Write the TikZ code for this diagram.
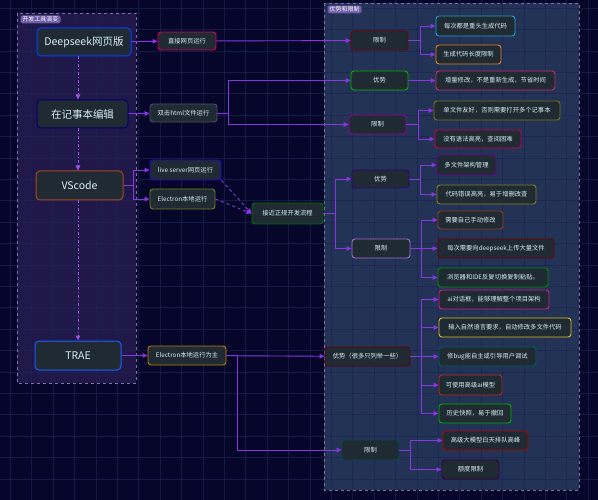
\documentclass[tikz,border=0pt]{standalone}
\usepackage{fontspec}
\setmainfont{Noto Sans CJK SC}
\usepackage{xcolor}
\usepackage{tikz}
\usetikzlibrary{
    arrows.meta,
    positioning
}

\definecolor{bgnavy}{HTML}{06062A}
\definecolor{gridc}{HTML}{1B2352}
\definecolor{leftfill}{HTML}{1F1848}
\definecolor{rightfill}{HTML}{223356}
\definecolor{grpline}{HTML}{7E70A8}
\definecolor{tagfill}{HTML}{6E5CA8}
\definecolor{nodefill}{HTML}{1F2A33}
\definecolor{txt}{HTML}{D8EEF2}
\definecolor{flowc}{HTML}{8A35E0}

\begin{document}
\begin{tikzpicture}[
    x=1pt,
    y=-1pt,
    flow/.style={
        draw=flowc,
        line width=0.9pt,
        -{Triangle[length=5pt,width=4.5pt]}
    },
    vflow/.style={
        draw=flowc!85,
        line width=0.9pt,
        dash dot,
        -{Triangle[length=5pt,width=4.5pt]}
    },
    dflow/.style={
        draw=flowc,
        line width=0.9pt,
        dashed,
        -{Triangle[length=5pt,width=4.5pt]}
    },
    grpbox/.style={
        draw=grpline,
        dashed,
        line width=0.6pt
    },
    grptag/.style={
        fill=tagfill,
        rounded corners=1.5pt,
        text=white,
        font=\fontsize{6}{7}\selectfont,
        inner xsep=2pt,
        inner ysep=1.2pt
    },
    gridline/.style={
        draw=gridc,
        line width=0.5pt
    },
    tool/.style={
        draw,
        rounded corners=4pt,
        fill=nodefill,
        text=txt,
        line width=1pt,
        font=\fontsize{10.5}{12}\selectfont,
        inner sep=0pt
    },
    item/.style={
        draw,
        rounded corners=3pt,
        fill=nodefill,
        text=txt,
        line width=0.9pt,
        font=\fontsize{6.3}{7}\selectfont,
        minimum height=19,
        inner sep=0pt
    }
]

% ============================================================
% BACKGROUND AND GROUPS
% ============================================================

\fill[bgnavy] (0,0) rectangle (598,500);
\useasboundingbox (0,0) rectangle (598,500);

\fill[leftfill] (17,13) rectangle (136,383);
\fill[rightfill] (324,3) rectangle (579,490);

\foreach \gx in {10.2,31.6,...,598}
    \draw[gridline, opacity=0.7] (\gx,0) -- (\gx,500);
\foreach \gy in {8,29.4,...,500}
    \draw[gridline, opacity=0.7] (0,\gy) -- (598,\gy);

\draw[grpbox] (17,13) rectangle (136,383);
\draw[grpbox] (324,3) rectangle (579,490);

\node[grptag] (tagtools) at (40.5,19.5) {开发工具演变};
\node[grptag] (tagprocon) at (344.5,9.5) {优势和限制};

% ============================================================
% TOOLS
% ============================================================

\node[tool, draw=blue!75!cyan, minimum width=94, minimum height=28]
    (deep) at (84,42) {Deepseek网页版};

\node[tool, draw=blue!45!black, minimum width=91, minimum height=28]
    (note) at (82.5,114) {在记事本编辑};

\node[tool, draw=brown!70!red!80!black, minimum width=87, minimum height=29]
    (vsc) at (79.5,185.5) {VScode};

\node[tool, draw=blue!70!cyan!90!white, minimum width=86, minimum height=29]
    (trae) at (78,355.5) {TRAE};

\draw[vflow] (deep.south -| trae) -- (note.north -| trae);
\draw[vflow] (note.south -| trae) -- (vsc.north -| trae);
\draw[vflow] (vsc.south -| trae) -- (trae.north);

% ============================================================
% WAYS OF RUNNING
% ============================================================

\node[item, draw=red!60!magenta!85!black, minimum width=58, minimum height=18]
    (direct) at (187,41) {直接网页运行};

\node[item, draw=cyan!40!blue!40!black, minimum width=67, minimum height=18]
    (dbl) at (183.5,113) {双击html文件运行};

\node[item, draw=blue!70!violet, minimum width=71, minimum height=20]
    (live) at (185.5,170) {live server网页运行};

\node[item, draw=olive!75!green!80!black, minimum width=65, minimum height=20]
    (elec) at (182.5,199) {Electron本地运行};

\node[item, draw=green!45!black, minimum width=71, minimum height=21]
    (formal) at (287.5,213.5) {接近正规开发流程};

\node[item, draw=orange!70!yellow!75!black, minimum width=78]
    (elecm) at (187,355.5) {Electron本地运行为主};

\draw[flow] (deep) -- (direct);
\draw[flow] (note) -- (dbl);
\draw[flow] (vsc.east) -- ++(10,0) |- (live.west);
\draw[flow] (vsc.east) -- ++(10,0) |- (elec.west);
\draw[dflow] (live.south east) -- (formal.west);
\draw[dflow] (elec.east) -- (formal.west);
\draw[flow] (trae) -- (elecm);

% ============================================================
% DEEPSEEK WEB
% ============================================================

\node[item, draw=red!45!black, minimum width=57]
    (lima) at (379.5,40.5) {限制};

\node[item, draw=cyan!70!teal, minimum width=79, minimum height=20]
    (lima1) at (475.5,26) {每次都是重头生成代码};

\node[item, draw=orange!55!brown, minimum width=65]
    (lima2) at (468.5,54.5) {生成代码长度限制};

\draw[flow] (direct) -- (lima);
\draw[flow] (lima.east) -- ++(12,0) |- (lima1.west);
\draw[flow] (lima.east) -- ++(12,0) |- (lima2.west);

% ============================================================
% NOTEPAD
% ============================================================

\node[item, draw=green!70!black, minimum width=57]
    (advb) at (379.5,80.5) {优势};

\node[item, draw=magenta!70!red!80!black, minimum width=119]
    (advb1) at (495.5,80.5) {增量修改，不是重新生成，节省时间};

\node[item, draw=violet!80!magenta, minimum width=57]
    (limb) at (377.5,124.5) {限制};

\node[item, draw=olive!80!black, minimum width=126]
    (limb1) at (497,110.5) {单文件友好，否则需要打开多个记事本};

\node[item, draw=red!65!magenta!80!black, minimum width=86, minimum height=18]
    (limb2) at (478,139) {没有语法高亮，查阅困难};

\draw[flow] (dbl.east) -- ++(11,0) |- (advb.west);
\draw[flow] (dbl.east) -- ++(11,0) |- (limb.west);
\draw[flow] (advb) -- (advb1);
\draw[flow] (limb.east) -- ++(12,0) |- (limb1.west);
\draw[flow] (limb.east) -- ++(12,0) |- (limb2.west);

% ============================================================
% VSCODE
% ============================================================

\node[item, draw=blue!45!violet!70!black, minimum width=57, minimum height=18]
    (advc) at (380.5,179) {优势};

\node[item, draw=violet!85!blue, minimum width=59, minimum height=20]
    (advc1) at (466.5,165) {多文件架构管理};

\node[item, draw=olive!85!yellow!80!black, minimum width=99]
    (advc2) at (486.5,194.5) {代码错误高亮，易于增删改查};

\node[item, draw=violet!45!white!80!blue, minimum width=58]
    (limc) at (381,248.5) {限制};

\node[item, draw=brown!70!red!70!black, minimum width=65, minimum height=18]
    (limc1) at (470.5,220) {需要自己手动修改};

\node[item, draw=red!45!black, minimum width=116]
    (limc2) at (496,248.5) {每次需要向deepseek上传大量文件};

\node[item, draw=green!55!black, minimum width=110]
    (limc3) at (493,277.5) {浏览器和IDE反复切换复制粘贴。};

\draw[flow] (formal.east) -- ++(12,0) |- (advc.west);
\draw[flow] (formal.east) -- ++(12,0) |- (limc.west);
\draw[flow] (advc.east) -- ++(11,0) |- (advc1.west);
\draw[flow] (advc.east) -- ++(11,0) |- (advc2.west);
\draw[flow] (limc.east) -- ++(11,0) |- (limc1.west);
\draw[flow] (limc) -- (limc2);
\draw[flow] (limc.east) -- ++(11,0) |- (limc3.west);

% ============================================================
% TRAE
% ============================================================

\node[item, draw=red!40!black, minimum width=85]
    (advd) at (367.5,356.5) {优势（很多只列举一些）};

\node[item, draw=magenta!80!violet, minimum width=110]
    (advd1) at (494,299.5) {ai对话框，能够理解整个项目架构};

\node[item, draw=yellow!75!orange!85!black, minimum width=132]
    (advd2) at (505,327.5) {输入自然语言要求，自动修改多文件代码};

\node[item, draw=teal!75!black, minimum width=97]
    (advd3) at (487.5,356.5) {修bug能自主或引导用户调试};

\node[item, draw=red!55!brown!80!black, minimum width=63, minimum height=20]
    (advd4) at (470.5,385) {可使用高级ai模型};

\node[item, draw=green!70!black, minimum width=72]
    (advd5) at (475,413.5) {历史快照，易于撤回};

\node[item, draw=teal!60!black, minimum width=57, minimum height=20]
    (limd) at (370.5,450) {限制};

\node[item, draw=red!70!black, minimum width=85]
    (limd1) at (485.5,440.5) {高级大模型白天排队高峰};

\node[item, draw=violet!45!black, minimum width=57]
    (limd2) at (470.5,469.5) {额度限制};

\draw[flow] (elecm) -- (advd);
\draw[flow] (elecm.east) -- ++(11,0) |- (limd.west);
\draw[flow] (advd.east) -- ++(11,0) |- (advd1.west);
\draw[flow] (advd.east) -- ++(11,0) |- (advd2.west);
\draw[flow] (advd) -- (advd3);
\draw[flow] (advd.east) -- ++(11,0) |- (advd4.west);
\draw[flow] (advd.east) -- ++(11,0) |- (advd5.west);
\draw[flow] (limd.east) -- ++(11,0) |- (limd1.west);
\draw[flow] (limd.east) -- ++(11,0) |- (limd2.west);

\end{tikzpicture}
\end{document}
